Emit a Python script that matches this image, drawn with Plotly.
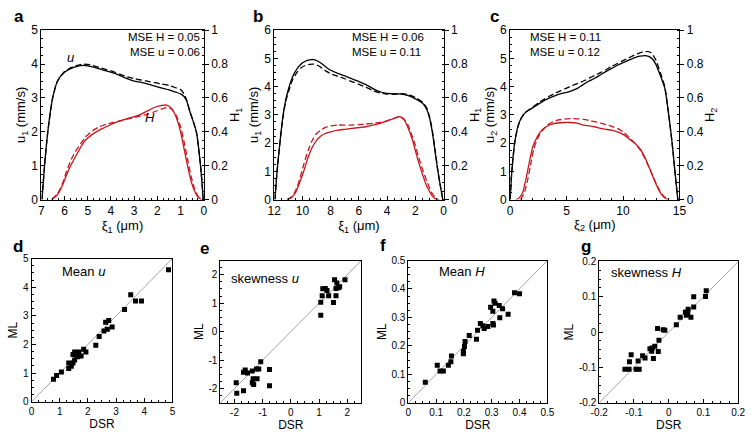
import plotly.graph_objects as go

# ---------------- Panel a ----------------
a_u_x = [6.97, 6.86, 6.72, 6.51, 6.3, 6.0, 5.6, 5.2, 4.9, 4.5, 4.2, 3.9, 3.6, 3.3, 3.0, 2.7, 2.4, 2.1, 1.8, 1.5, 1.2, 1.0, 0.85, 0.73, 0.6, 0.5, 0.32, 0.14, 0.02]
a_u_ml = [0.0, 1.0, 2.0, 3.0, 3.5, 3.76, 3.9, 3.96, 3.93, 3.86, 3.8, 3.74, 3.66, 3.57, 3.5, 3.46, 3.41, 3.35, 3.29, 3.24, 3.17, 3.12, 3.04, 2.9, 2.6, 2.4, 2.0, 1.0, 0.0]
a_u_dsr = [0.0, 1.0, 2.0, 3.0, 3.5, 3.78, 3.93, 4.0, 3.98, 3.9, 3.84, 3.78, 3.7, 3.62, 3.57, 3.53, 3.49, 3.45, 3.41, 3.37, 3.3, 3.25, 3.12, 2.92, 2.6, 2.4, 2.0, 1.0, 0.0]
a_h_x = [6.55, 6.3, 6.1, 5.9, 5.7, 5.5, 5.3, 5.1, 4.8, 4.5, 4.2, 3.9, 3.6, 3.3, 3.0, 2.7, 2.4, 2.1, 1.8, 1.6, 1.4, 1.2, 1.0, 0.85, 0.7, 0.55, 0.4, 0.25, 0.1]
a_h_ml = [0.0, 0.03, 0.08, 0.15, 0.21, 0.26, 0.31, 0.35, 0.385, 0.41, 0.43, 0.45, 0.465, 0.478, 0.49, 0.505, 0.525, 0.545, 0.556, 0.558, 0.54, 0.49, 0.4, 0.3, 0.2, 0.11, 0.05, 0.015, 0.0]
a_h_dsr = [0.0, 0.035, 0.09, 0.17, 0.24, 0.29, 0.33, 0.37, 0.405, 0.43, 0.445, 0.455, 0.465, 0.475, 0.485, 0.495, 0.505, 0.52, 0.535, 0.543, 0.535, 0.5, 0.43, 0.34, 0.24, 0.14, 0.065, 0.02, 0.0]

# ---------------- Panel b ----------------
b_u_x = [11.95, 11.8, 11.6, 11.4, 11.2, 11.0, 10.7, 10.4, 10.1, 9.8, 9.5, 9.2, 8.9, 8.6, 8.3, 8.0, 7.5, 7.0, 6.5, 6.0, 5.5, 5.0, 4.5, 4.0, 3.5, 3.0, 2.5, 2.0, 1.5, 1.2, 1.0, 0.8, 0.6, 0.4, 0.2, 0.05]
b_u_ml = [0.0, 1.0, 2.0, 2.9, 3.5, 3.9, 4.35, 4.62, 4.8, 4.9, 4.95, 4.96, 4.9, 4.8, 4.68, 4.58, 4.47, 4.38, 4.28, 4.18, 4.07, 3.93, 3.82, 3.76, 3.74, 3.74, 3.68, 3.57, 3.42, 3.2, 2.9, 2.4, 1.7, 1.0, 0.4, 0.0]
b_u_dsr = [0.0, 1.0, 2.0, 2.85, 3.45, 3.8, 4.25, 4.5, 4.67, 4.75, 4.79, 4.8, 4.75, 4.65, 4.54, 4.46, 4.37, 4.28, 4.18, 4.08, 3.98, 3.86, 3.78, 3.74, 3.74, 3.75, 3.72, 3.62, 3.45, 3.25, 2.95, 2.45, 1.75, 1.0, 0.4, 0.0]
b_h_x = [11.1, 10.8, 10.5, 10.2, 9.9, 9.6, 9.3, 9.0, 8.7, 8.4, 8.0, 7.5, 7.0, 6.5, 6.0, 5.5, 5.0, 4.5, 4.0, 3.5, 3.1, 2.8, 2.5, 2.2, 2.0, 1.8, 1.5, 1.2, 1.0, 0.8, 0.5, 0.35]
b_h_ml = [0.0, 0.01, 0.04, 0.1, 0.17, 0.25, 0.31, 0.35, 0.375, 0.39, 0.4, 0.41, 0.415, 0.42, 0.425, 0.43, 0.44, 0.45, 0.465, 0.48, 0.49, 0.47, 0.42, 0.35, 0.29, 0.23, 0.15, 0.08, 0.05, 0.02, 0.0, 0.0]
b_h_dsr = [0.0, 0.015, 0.05, 0.12, 0.21, 0.29, 0.35, 0.39, 0.41, 0.425, 0.435, 0.44, 0.44, 0.44, 0.443, 0.446, 0.45, 0.455, 0.465, 0.48, 0.49, 0.475, 0.435, 0.37, 0.32, 0.26, 0.18, 0.11, 0.07, 0.035, 0.005, 0.0]

# ---------------- Panel c ----------------
c_u_x = [0.0, 0.15, 0.4, 0.7, 1.0, 1.4, 2.0, 2.5, 3.0, 3.5, 4.0, 4.5, 5.0, 5.5, 6.0, 6.5, 7.0, 7.5, 8.0, 8.5, 9.0, 9.5, 10.0, 10.5, 11.0, 11.5, 12.0, 12.5, 12.9, 13.3, 13.7, 14.05, 14.35, 14.6, 14.85]
c_u_ml = [0.0, 1.0, 2.0, 2.6, 2.9, 3.1, 3.25, 3.38, 3.5, 3.6, 3.68, 3.75, 3.8, 3.86, 3.95, 4.08, 4.2, 4.3, 4.42, 4.54, 4.65, 4.76, 4.85, 4.94, 5.02, 5.08, 5.1, 5.02, 4.8, 4.4, 3.95, 3.0, 2.0, 1.0, 0.0]
c_u_dsr = [0.0, 1.0, 2.0, 2.6, 2.9, 3.1, 3.27, 3.42, 3.55, 3.67, 3.77, 3.86, 3.95, 4.04, 4.12, 4.2, 4.3, 4.4, 4.5, 4.6, 4.72, 4.82, 4.92, 5.02, 5.12, 5.2, 5.25, 5.2, 4.95, 4.5, 4.0, 3.0, 2.0, 1.0, 0.0]
c_h_x = [0.5, 0.8, 1.1, 1.4, 1.7, 2.0, 2.4, 2.8, 3.2, 3.7, 4.2, 4.8, 5.3, 6.0, 6.5, 7.0, 7.5, 8.0, 8.5, 9.0, 9.5, 10.0, 10.5, 11.0, 11.5, 12.0, 12.5, 13.0, 13.4, 13.8, 14.05]
c_h_ml = [0.0, 0.01, 0.04, 0.12, 0.22, 0.31, 0.37, 0.41, 0.43, 0.445, 0.452, 0.455, 0.455, 0.45, 0.44, 0.435, 0.43, 0.42, 0.415, 0.41, 0.4, 0.385, 0.36, 0.335, 0.3, 0.24, 0.16, 0.08, 0.03, 0.005, 0.0]
c_h_dsr_x = [0.9, 1.2, 1.5, 1.8, 2.1, 2.5, 2.9, 3.3, 3.8, 4.3, 4.8, 5.5, 6.0, 6.5, 7.0, 7.5, 8.0, 8.5, 9.0, 9.5, 10.0, 10.5, 11.0, 11.5, 12.0, 12.5, 13.0, 13.4, 13.8, 14.1]
c_h_dsr = [0.0, 0.03, 0.1, 0.2, 0.3, 0.37, 0.41, 0.44, 0.46, 0.47, 0.475, 0.478, 0.477, 0.473, 0.467, 0.46, 0.452, 0.443, 0.432, 0.42, 0.4, 0.37, 0.335, 0.295, 0.235, 0.16, 0.085, 0.035, 0.008, 0.0]

# ---------------- Scatter panels ----------------
d_dsr = [0.78, 0.89, 1.06, 1.32, 1.32, 1.41, 1.47, 1.47, 1.53, 1.53, 1.59, 1.62, 1.64, 1.68, 1.76, 1.85, 1.93, 2.28, 2.4, 2.57, 2.63, 2.69, 2.74, 2.86, 3.3, 3.52, 3.69, 3.9, 4.86]
d_ml = [0.79, 0.92, 1.04, 1.16, 1.35, 1.24, 1.35, 1.65, 1.46, 1.74, 1.63, 1.72, 1.57, 1.74, 1.6, 1.83, 1.74, 1.97, 2.28, 2.47, 2.78, 2.53, 2.84, 2.61, 3.22, 3.74, 3.52, 3.52, 4.61]

e_dsr = [-1.92, -1.94, -1.68, -1.68, -1.62, -1.54, -1.37, -1.34, -1.32, -1.37, -1.2, -1.22, -1.14, -1.07, -0.76, -0.76,
         1.06, 1.06, 1.11, 1.13, 1.22, 1.28, 1.34, 1.51, 1.55, 1.6, 1.63, 1.6, 1.69, 1.73, 1.92]
e_ml = [-2.17, -1.8, -2.08, -1.43, -1.35, -1.45, -1.38, -1.66, -1.86, -1.8, -1.66, -1.31, -1.31, -1.06, -1.33, -1.9,
        0.58, 1.03, 1.26, 1.51, 1.52, 1.45, 1.26, 1.02, 1.82, 1.52, 1.71, 1.26, 1.54, 1.58, 1.82]

f_dsr = [0.061, 0.104, 0.114, 0.126, 0.144, 0.153, 0.155, 0.198, 0.198, 0.202, 0.204, 0.219, 0.245, 0.249, 0.259, 0.268, 0.273, 0.286,
         0.296, 0.304, 0.304, 0.306, 0.308, 0.312, 0.327, 0.329, 0.339, 0.359, 0.382, 0.4]
f_ml = [0.072, 0.132, 0.112, 0.112, 0.132, 0.144, 0.164, 0.18, 0.172, 0.198, 0.215, 0.236, 0.223, 0.255, 0.279, 0.271, 0.261, 0.268,
        0.336, 0.322, 0.279, 0.273, 0.358, 0.35, 0.342, 0.299, 0.33, 0.311, 0.387, 0.383]

g_dsr = [-0.126, -0.114, -0.113, -0.108, -0.094, -0.085, -0.088, -0.075, -0.068, -0.054, -0.049, -0.047, -0.044, -0.04, -0.032, -0.03,
         -0.028, -0.016, -0.011, 0.022, 0.033, 0.048, 0.051, 0.053, 0.056, 0.055, 0.064, 0.072, 0.072, 0.106, 0.108]
g_ml = [-0.105, -0.105, -0.084, -0.064, -0.105, -0.105, -0.082, -0.067, -0.073, -0.047, -0.054, -0.045, -0.075, -0.04, 0.01, -0.055,
        -0.023, 0.007, 0.005, 0.021, 0.042, 0.056, 0.048, 0.057, 0.065, 0.05, 0.042, 0.071, 0.1, 0.101, 0.117]

# tick labels (hyphen minus as in the reference)
e_tickvals = [-2, -1, 0, 1, 2]
e_ticktext = ["-2", "-1", "0", "1", "2"]
g_tickvals = [-0.2, -0.1, 0, 0.1, 0.2]
g_ticktext = ["-0.2", "-0.1", "0", "0.1", "0.2"]

RED = "#c8161d"
DASH = "6px,3px"
FONT = "Liberation Sans, Arial, sans-serif"


def px_x(a, b):
    return [a / 754, b / 754]


def px_y(top, bottom):
    return [1 - bottom / 432, 1 - top / 432]


fig = go.Figure()


def line(x, y, xa, ya, color, dash=None):
    fig.add_trace(go.Scatter(x=x, y=y, xaxis=xa, yaxis=ya, mode="lines",
                             line=dict(color=color, width=1.3, shape="spline", smoothing=0.6,
                                       dash=dash if dash else "solid"),
                             hoverinfo="skip"))


# top panels
line(a_u_x, a_u_ml, "x", "y", "black")
line(a_u_x, a_u_dsr, "x", "y", "black", DASH)
line(a_h_x, a_h_ml, "x", "y8", RED)
line(a_h_x, a_h_dsr, "x", "y8", RED, DASH)

line(b_u_x, b_u_ml, "x2", "y2", "black")
line(b_u_x, b_u_dsr, "x2", "y2", "black", DASH)
line(b_h_x, b_h_ml, "x2", "y9", RED)
line(b_h_x, b_h_dsr, "x2", "y9", RED, DASH)

line(c_u_x, c_u_ml, "x3", "y3", "black")
line(c_u_x, c_u_dsr, "x3", "y3", "black", DASH)
line(c_h_x, c_h_ml, "x3", "y10", RED)
line(c_h_dsr_x, c_h_dsr, "x3", "y10", RED, DASH)

# scatter panels
scat = [("x4", "y4", d_dsr, d_ml, 0, 5), ("x5", "y5", e_dsr, e_ml, -2.5, 2.5),
        ("x6", "y6", f_dsr, f_ml, 0, 0.5), ("x7", "y7", g_dsr, g_ml, -0.2, 0.2)]
for xa, ya, xs, ys, lo, hi in scat:
    fig.add_trace(go.Scatter(x=[lo, hi], y=[lo, hi], xaxis=xa, yaxis=ya, mode="lines",
                             line=dict(color="#8c8c8c", width=0.8), hoverinfo="skip"))
    fig.add_trace(go.Scatter(x=xs, y=ys, xaxis=xa, yaxis=ya, mode="markers",
                             marker=dict(symbol="square", size=5, color="black"), hoverinfo="skip"))


def axis(domain, rng, dtick, mdtick, title, anchor, tsize=12, titsize=13, ticks="inside", side=None,
         overlaying=None, mirror=True, tick0=0, tickvals=None, ticktext=None):
    d = dict(range=rng, anchor=anchor, showline=True, linecolor="black", linewidth=1, mirror=mirror,
             ticks=ticks, ticklen=4, tickwidth=1, tickcolor="black", dtick=dtick, tick0=tick0,
             minor=dict(ticks="inside", ticklen=2, dtick=mdtick, tickcolor="black", tick0=tick0),
             showgrid=False, zeroline=False,
             title=dict(text=title, standoff=2, font=dict(size=titsize, family=FONT)),
             tickfont=dict(size=tsize, family=FONT, color="black"))
    if tickvals is not None:
        d["tickmode"] = "array"
        d["tickvals"] = tickvals
        d["ticktext"] = ticktext
    if domain is not None:
        d["domain"] = domain
    if side:
        d["side"] = side
    if overlaying:
        d["overlaying"] = overlaying
    return d


top_y = px_y(24, 199)
xi1 = "ξ<sub>1</sub> (μm)"
xi2 = "ξ<sub>2</sub> (μm)"
layout = dict(
    xaxis=axis(px_x(33, 199), [7, 0], 1, 0.25, xi1, "y"),
    yaxis=axis(top_y, [0, 5], 1, 0.25, "u<sub>1</sub> (mm/s)", "x", mirror=False),
    yaxis8=axis(None, [0, 1], 0.2, 0.05, "H<sub>1</sub>", "x", ticks="outside", side="right", overlaying="y", mirror=False),
    xaxis2=axis(px_x(271, 444), [12, 0], 2, 0.5, xi1, "y2"),
    yaxis2=axis(top_y, [0, 6], 1, 0.25, "u<sub>1</sub> (mm/s)", "x2", mirror=False),
    yaxis9=axis(None, [0, 1], 0.2, 0.05, "H<sub>1</sub>", "x2", ticks="outside", side="right", overlaying="y2", mirror=False),
    xaxis3=axis(px_x(512, 685), [0, 15], 5, 1, xi2, "y3"),
    yaxis3=axis(top_y, [0, 6], 1, 0.25, "u<sub>2</sub> (mm/s)", "x3", mirror=False),
    yaxis10=axis(None, [0, 1], 0.2, 0.05, "H<sub>2</sub>", "x3", ticks="outside", side="right", overlaying="y3", mirror=False),
    xaxis4=axis(px_x(23, 167), [0, 5], 1, 0.25, "DSR", "y4", tsize=10, titsize=12),
    yaxis4=axis(px_y(260, 408), [0, 5], 1, 0.25, "ML", "x4", tsize=10, titsize=12),
    xaxis5=axis(px_x(216, 360), [-2.5, 2.5], 1, 0.25, "DSR", "y5", tsize=10, titsize=12,
                tickvals=e_tickvals, ticktext=e_ticktext),
    yaxis5=axis(px_y(262, 409), [-2.5, 2.5], 1, 0.25, "ML", "x5", tsize=10, titsize=12,
                tickvals=e_tickvals, ticktext=e_ticktext),
    xaxis6=axis(px_x(408, 550), [0, 0.5], 0.1, 0.025, "DSR", "y6", tsize=10, titsize=12),
    yaxis6=axis(px_y(262, 409), [0, 0.5], 0.1, 0.025, "ML", "x6", tsize=10, titsize=12),
    xaxis7=axis(px_x(603, 745), [-0.2, 0.2], 0.1, 0.025, "DSR", "y7", tsize=10, titsize=12,
                tickvals=g_tickvals, ticktext=g_ticktext),
    yaxis7=axis(px_y(263, 409), [-0.2, 0.2], 0.1, 0.025, "ML", "x7", tsize=10, titsize=12,
                tickvals=g_tickvals, ticktext=g_ticktext),
)

ann = []
for letter, x, y in [("a", 3, 10), ("b", 247, 10), ("c", 489, 10), ("d", 2, 248), ("e", 193, 250),
                     ("f", 377, 246), ("g", 582, 248)]:
    ann.append(dict(text="<b>%s</b>" % letter, x=x / 754, y=1 - y / 432, xref="paper", yref="paper",
                    xanchor="left", yanchor="middle", showarrow=False, font=dict(size=17, family=FONT)))

mse = [("MSE H = 0.05<br>MSE u = 0.06", 197, "right"), ("MSE H = 0.06<br>MSE u = 0.11", 348, "left"),
       ("MSE H = 0.11<br>MSE u = 0.12", 530, "left")]
for txt, x, anc in mse:
    ann.append(dict(text=txt, x=x / 754, y=1 - 39 / 432, xref="paper", yref="paper", xanchor=anc,
                    yanchor="middle", align=anc, showarrow=False, font=dict(size=11.5, family=FONT)))

ann.append(dict(text="<i>u</i>", x=5.75, y=4.2, xref="x", yref="y", showarrow=False,
                font=dict(size=13, family=FONT)))
ann.append(dict(text="<i>H</i>", x=2.3, y=2.42, xref="x", yref="y", showarrow=False,
                font=dict(size=13, family=FONT)))

for txt, x, y in [("Mean <i>u</i>", 52, 273), ("skewness <i>u</i>", 225, 281), ("Mean <i>H</i>", 437, 273),
                  ("skewness <i>H</i>", 613, 274)]:
    ann.append(dict(text=txt, x=x / 754, y=1 - y / 432, xref="paper", yref="paper", xanchor="left",
                    yanchor="middle", showarrow=False, font=dict(size=13, family=FONT)))

fig.update_layout(width=754, height=432, margin=dict(l=0, r=0, t=0, b=0), paper_bgcolor="white",
                  plot_bgcolor="white", showlegend=False, font=dict(family=FONT, color="black"),
                  annotations=ann, **layout)

fig.write_html("out.html")
